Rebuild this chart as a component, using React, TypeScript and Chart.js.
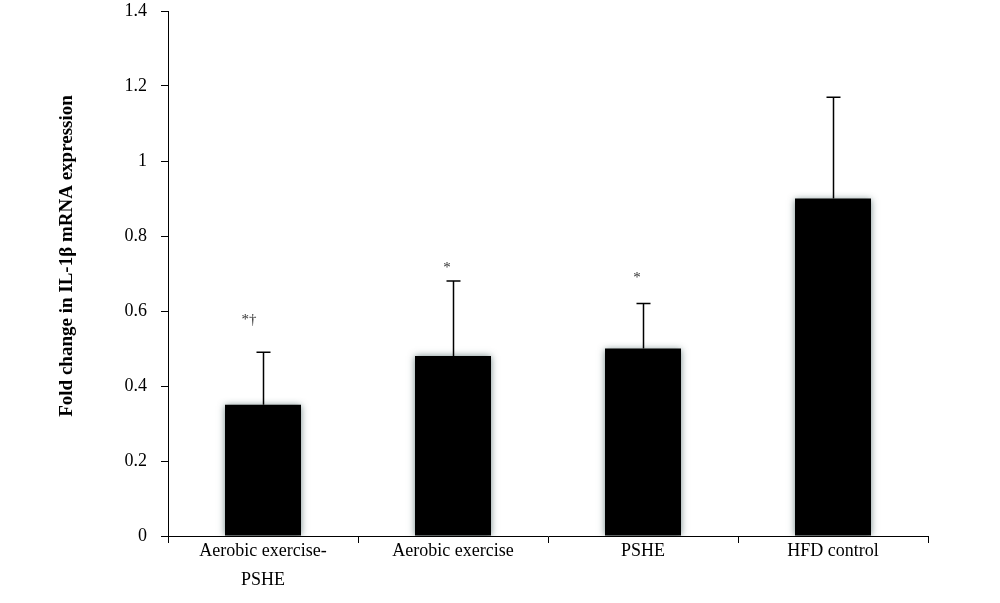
import React, { useEffect, useRef } from "react";
import { Chart, registerables } from "chart.js";

Chart.register(...registerables);

const categories: (string | string[])[] = [
  ["Aerobic exercise-", "PSHE"],
  "Aerobic exercise",
  "PSHE",
  "HFD control",
];
const meanValues = [0.35, 0.48, 0.5, 0.9];
const errorUpper = [0.49, 0.68, 0.62, 1.17];
const significance = ["*†", "*", "*", ""];
const significanceAt = [0.576, 0.715, 0.688, 0];
const yAxisTitle = "Fold change in IL-1β mRNA expression";

const FONT = "'Liberation Serif', 'Times New Roman', serif";

const shadowPlugin = {
  id: "barShadow",
  beforeDatasetDraw(chart: any) {
    const ctx = chart.ctx;
    ctx.save();
    ctx.shadowColor = "rgba(60,90,90,0.7)";
    ctx.shadowBlur = 7;
  },
  afterDatasetDraw(chart: any) {
    chart.ctx.restore();
  },
};

const extrasPlugin = {
  id: "extras",
  afterDatasetsDraw(chart: any) {
    const ctx = chart.ctx;
    const meta = chart.getDatasetMeta(0);
    const y = chart.scales.y;
    ctx.save();
    ctx.strokeStyle = "#000";
    ctx.lineWidth = 1.5;
    meta.data.forEach((bar: any, i: number) => {
      const x = Math.round(bar.x) + 0.5;
      const yTop = y.getPixelForValue(errorUpper[i]);
      const yMean = y.getPixelForValue(meanValues[i]);
      ctx.beginPath();
      ctx.moveTo(x, yMean);
      ctx.lineTo(x, yTop);
      ctx.moveTo(x - 7, yTop);
      ctx.lineTo(x + 7, yTop);
      ctx.stroke();
      if (significance[i]) {
        ctx.fillStyle = "#333";
        ctx.font = `15px ${FONT}`;
        ctx.textAlign = "center";
        ctx.textBaseline = "middle";
        const dx = significance[i].length > 1 ? -14 : -6;
        ctx.fillText(significance[i], bar.x + dx, y.getPixelForValue(significanceAt[i]));
      }
    });
    ctx.restore();
  },
  afterDraw(chart: any) {
    const ctx = chart.ctx;
    ctx.save();
    ctx.translate(67, 256);
    ctx.rotate(-Math.PI / 2);
    ctx.fillStyle = "#000";
    ctx.font = `bold 19px ${FONT}`;
    ctx.textAlign = "center";
    ctx.textBaseline = "middle";
    ctx.fillText(yAxisTitle, 0, 0);
    ctx.restore();
  },
};

export default function App() {
  const ref = useRef<HTMLCanvasElement>(null);
  useEffect(() => {
    if (!ref.current) return;
    const chart = new Chart(ref.current, {
      type: "bar",
      data: {
        labels: categories,
        datasets: [
          {
            data: meanValues,
            backgroundColor: "#000",
            borderWidth: 0,
            barPercentage: 0.4,
            categoryPercentage: 1,
          },
        ],
      },
      options: {
        animation: false,
        responsive: true,
        maintainAspectRatio: false,
        layout: { padding: { top: 11, right: 72, left: 0, bottom: 0 } },
        plugins: {
          legend: { display: false },
          tooltip: { enabled: false },
        },
        scales: {
          x: {
            grid: {
              display: true,
              drawOnChartArea: false,
              drawTicks: true,
              tickLength: 7,
              color: "#000",
              offset: true,
            },
            border: { display: true, color: "#000", width: 1 },
            ticks: {
              color: "#000",
              font: { family: FONT, size: 18, lineHeight: 1.6 },
              padding: -6,
              maxRotation: 0,
              autoSkip: false,
            },
            afterFit: (s: any) => {
              s.height = 67;
              s.paddingLeft = 0;
              s.paddingRight = 0;
            },
          },
          y: {
            min: 0,
            max: 1.4,
            grid: {
              display: true,
              drawOnChartArea: false,
              drawTicks: true,
              tickLength: 7,
              color: "#000",
            },
            border: { display: true, color: "#000", width: 1 },
            ticks: {
              stepSize: 0.2,
              color: "#000",
              font: { family: FONT, size: 18 },
              padding: 14,
              callback: (v: any) => String(parseFloat(Number(v).toFixed(1))),
            },
            afterFit: (s: any) => {
              s.width = 168;
              s.paddingTop = 0;
              s.paddingBottom = 0;
            },
          },
        },
      },
      plugins: [shadowPlugin, extrasPlugin],
    });
    return () => chart.destroy();
  }, []);
  return (
    <div style={{ position: "fixed", left: 0, top: 0, width: 1000, height: 603, background: "#fff" }}>
      <canvas ref={ref} />
    </div>
  );
}
